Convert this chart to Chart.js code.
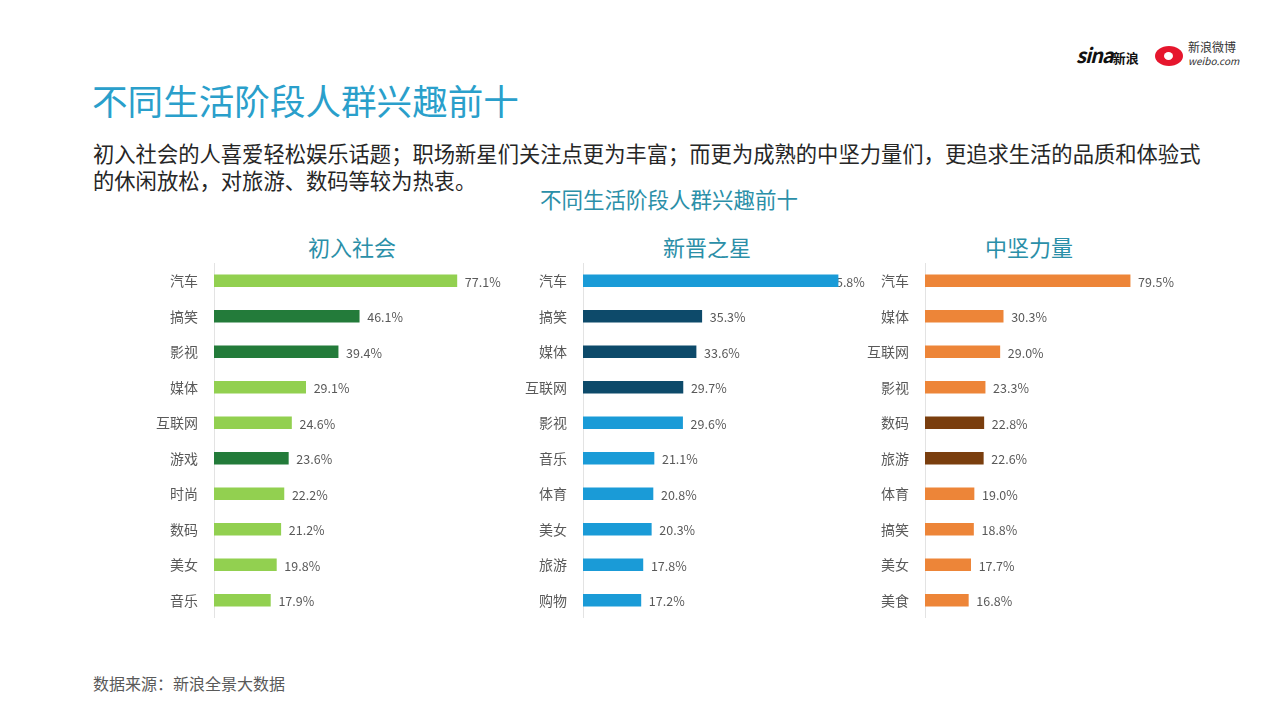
<!DOCTYPE html>
<html>
<head>
<meta charset="utf-8">
<script src="https://cdn.jsdelivr.net/npm/chart.js@4"></script>
<style>
  body { margin:0; width:1280px; height:719px; background:#fff; position:relative; overflow:hidden; font-family:"Noto Sans CJK SC","Noto Sans",sans-serif; }
  .abs { position:absolute; white-space:nowrap; }
  #title { left:92px; top:76px; font-size:35.6px; color:#2a9fcb; line-height:48px; }
  #sub { left:93px; top:139px; font-size:21.3px; color:#262626; line-height:27px; }
  #chartTitle { left:540px; top:185px; font-size:21.5px; color:#2b8fa8; line-height:28px; }
  .panel { top:231px; font-size:22px; color:#2b8fa8; line-height:30px; width:200px; text-align:center; }
  #source { left:93px; top:672px; font-size:16px; color:#595959; line-height:22px; }
  canvas { position:absolute; }
  #sina { left:1076px; top:40px; font-size:20px; font-weight:bold; font-style:italic; color:#111; letter-spacing:-1px; }
  #sina span { font-size:13px; font-style:normal; letter-spacing:0; }
  #weiboIcon { left:1155px; top:46px; width:28px; height:20px; border-radius:50%; background:#e6162d; }
  #weiboIcon::after { content:''; position:absolute; left:9px; top:6px; width:9px; height:8px; border-radius:50%; background:#fff; }
  #weiboTxt { left:1188px; top:40px; font-size:12px; color:#333; line-height:13px; }
  #weiboTxt i { font-size:10px; }
</style>
</head>
<body>
<div class="abs" id="sina">sina<span>新浪</span></div>
<div class="abs" id="weiboIcon"></div>
<div class="abs" id="weiboTxt">新浪微博<br><i>weibo.com</i></div>

<div class="abs" id="title">不同生活阶段人群兴趣前十</div>
<div class="abs" id="sub">初入社会的人喜爱轻松娱乐话题；职场新星们关注点更为丰富；而更为成熟的中坚力量们，更追求生活的品质和体验式<br>的休闲放松，对旅游、数码等较为热衷。</div>
<div class="abs" id="chartTitle">不同生活阶段人群兴趣前十</div>
<div class="abs panel" style="left:252px">初入社会</div>
<div class="abs panel" style="left:607px">新晋之星</div>
<div class="abs panel" style="left:929px">中坚力量</div>

<canvas id="c1" width="389" height="355" style="left:140px;top:263px"></canvas>
<canvas id="c2" width="360" height="355" style="left:509px;top:263px"></canvas>
<canvas id="c3" width="332" height="355" style="left:851px;top:263px"></canvas>

<div class="abs" id="source">数据来源：新浪全景大数据</div>

<script>
// 初入社会
const stage1Labels = ['汽车','搞笑','影视','媒体','互联网','游戏','时尚','数码','美女','音乐'];
const stage1Values = [77.1, 46.1, 39.4, 29.1, 24.6, 23.6, 22.2, 21.2, 19.8, 17.9];
const stage1Dark = ['搞笑','影视','游戏'];

// 新晋之星
const stage2Labels = ['汽车','搞笑','媒体','互联网','影视','音乐','体育','美女','旅游','购物'];
const stage2Values = [75.8, 35.3, 33.6, 29.7, 29.6, 21.1, 20.8, 20.3, 17.8, 17.2];
const stage2Dark = ['搞笑','媒体','互联网'];

// 中坚力量
const stage3Labels = ['汽车','媒体','互联网','影视','数码','旅游','体育','搞笑','美女','美食'];
const stage3Values = [79.5, 30.3, 29.0, 23.3, 22.8, 22.6, 19.0, 18.8, 17.7, 16.8];
const stage3Dark = ['数码','旅游'];

const FONT = '"Noto Sans CJK SC","Noto Sans",sans-serif';

// value labels drawn before the bars, so a bar may cover its label (as in the original)
const valueLabels = {
  id: 'valueLabels',
  beforeDatasetsDraw(chart) {
    const ctx = chart.ctx;
    const meta = chart.getDatasetMeta(0);
    const data = chart.data.datasets[0].data;
    ctx.save();
    ctx.font = '12.5px ' + FONT;
    ctx.fillStyle = '#595959';
    ctx.textAlign = 'left';
    ctx.textBaseline = 'middle';
    meta.data.forEach((bar, i) => {
      const x = Math.min(bar.x + 8, chart.chartArea.right - 40);
      ctx.fillText(data[i].toFixed(1) + '%', x, bar.y + 1);
    });
    ctx.restore();
  }
};

const makeChart = (id, labels, values, dark, light, darkColor, max) => {
  new Chart(document.getElementById(id), {
    type: 'bar',
    data: {
      labels,
      datasets: [{
        data: values,
        backgroundColor: labels.map(l => dark.includes(l) ? darkColor : light),
        barThickness: 12
      }]
    },
    options: {
      indexAxis: 'y',
      responsive: false,
      animation: false,
      layout: { padding: 0, autoPadding: false },
      plugins: { legend: { display: false }, tooltip: { enabled: false } },
      scales: {
        x: { display: false, min: 0, max },
        y: {
          grid: { display: false, drawTicks: false },
          border: { color: '#e3e3e3', width: 1 },
          ticks: { color: '#595959', font: { size: 14, family: FONT }, padding: 16 },
          afterFit: (s) => { s.width = 74; s.paddingTop = 0; s.paddingBottom = 0; }
        }
      }
    },
    plugins: [valueLabels]
  });
};

makeChart('c1', stage1Labels, stage1Values, stage1Dark, '#92d050', '#237b3a', 100);
makeChart('c2', stage2Labels, stage2Values, stage2Dark, '#1a9bd7', '#0d4a6a', 85);
makeChart('c3', stage3Labels, stage3Values, stage3Dark, '#ed8538', '#7a3e0e', 100);
</script>
</body>
</html>
